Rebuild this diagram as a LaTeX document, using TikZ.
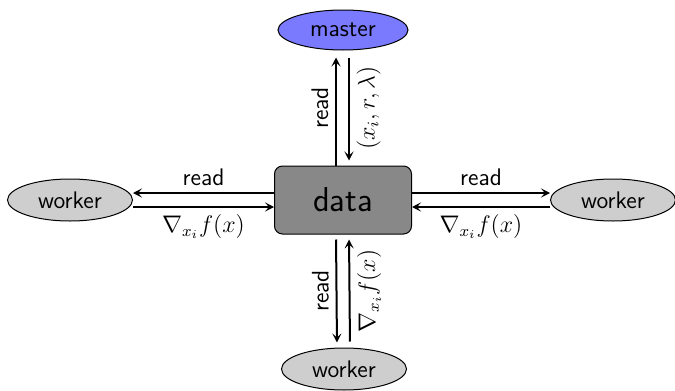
\documentclass[tikz,border=0pt]{standalone}
\usepackage{amsmath}
\usepackage{xcolor}
\definecolor{dsgray}{RGB}{136,136,136}
\definecolor{dslight}{RGB}{206,206,206}
\definecolor{dsblue}{RGB}{122,122,255}
\usetikzlibrary{arrows.meta, calc, shapes.geometric}

\begin{document}
\begin{tikzpicture}[x=0.5pt, y=-0.5pt,
  store/.style={rectangle, rounded corners=4pt, draw=black, line width=0.5pt,
                fill=dsgray, minimum width=68.5pt, minimum height=34pt,
                font=\sffamily\LARGE},
  agent/.style={ellipse, draw=black, line width=0.5pt, fill=dslight,
                minimum width=62.5pt, minimum height=21pt, inner sep=0pt,
                font=\sffamily\large},
  arr/.style={-{Stealth[length=4.5pt, width=4.5pt, inset=2pt]}, line width=1pt},
  lbl/.style={font=\sffamily\large},
  mlbl/.style={font=\large}
]
\useasboundingbox (0,0) rectangle (675,391);

% Shared data
\node[store] (data) at (343,200) {data};

% Master and workers
\node[agent, fill=dsblue, minimum width=65pt, minimum height=20pt] (master) at (343,30) {master};
\node[agent] (wl) at (70,200) {worker};
\node[agent] (wr) at (613,200) {worker};
\node[agent] (wb) at (344,369) {worker};

% Master <-> data
\draw[arr, shorten >=3.5pt] ($(data.north)+(-7,0)$) -- ($(master.south)+(-7,0)$)
  node[midway, anchor=south, rotate=90, lbl] {read};
\draw[arr, shorten <=3.5pt, shorten >=2.5pt] ($(master.south)+(6,0)$) -- ($(data.north)+(6,0)$)
  node[midway, anchor=north, rotate=90, mlbl] {$(x_i, r, \lambda)$};

% Left worker
\draw[arr] ($(data.west)+(0,-7)$) -- ($(wl.east)+(0,-7)$)
  node[midway, above, lbl] {read};
\draw[arr] ($(wl.east)+(0,7)$) -- ($(data.west)+(0,7)$)
  node[midway, below, mlbl] {$\nabla_{x_i} f(x)$};

% Right worker
\draw[arr] ($(data.east)+(0,-7)$) -- ($(wr.west)+(0,-7)$)
  node[midway, above, lbl] {read};
\draw[arr] ($(wr.west)+(0,7)$) -- ($(data.east)+(0,7)$)
  node[midway, below, mlbl] {$\nabla_{x_i} f(x)$};

% Bottom worker
\draw[arr, shorten <=2.5pt, shorten >=2.5pt] ($(data.south)+(-7,0)$) -- ($(wb.north)+(-7,0)$)
  node[midway, anchor=south, rotate=90, lbl] {read};
\draw[arr, shorten <=3pt, shorten >=2.5pt] ($(wb.north)+(6,0)$) -- ($(data.south)+(6,0)$)
  node[midway, anchor=north, rotate=90, mlbl] {$\nabla_{x_i} f(x)$};
\end{tikzpicture}
\end{document}
